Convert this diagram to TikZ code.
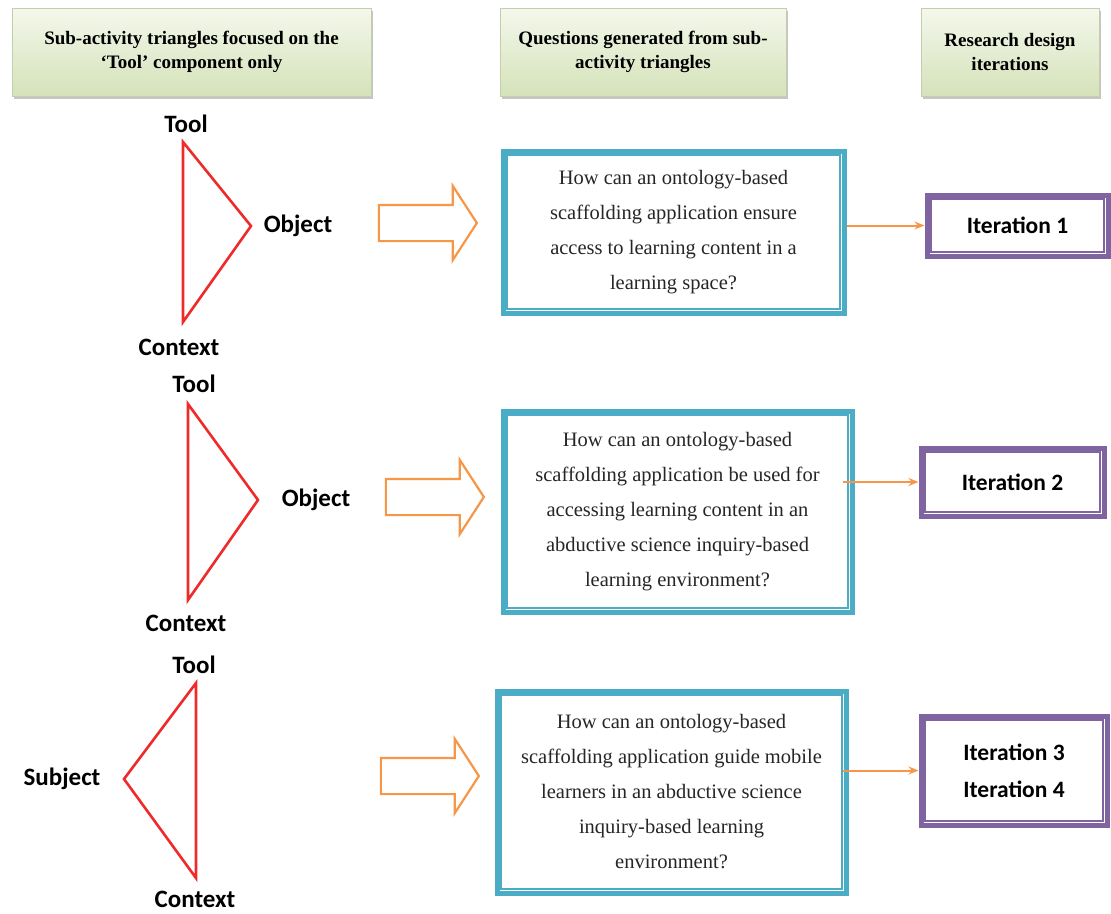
\documentclass[tikz,border=0pt]{standalone}
\usepackage{fontspec}
\setmainfont{Liberation Serif}
\newfontfamily\calfont{Carlito}
\usepackage{tikz}
\usetikzlibrary{shapes, shapes.arrows, arrows.meta, positioning, calc, shadows}
\definecolor{hdrtop}{HTML}{F4F8EC}
\definecolor{hdrbot}{HTML}{D5E2B9}
\definecolor{qteal}{HTML}{4BACC6}
\definecolor{itpurple}{HTML}{8064A2}
\definecolor{arrorange}{HTML}{F79646}
\definecolor{trired}{HTML}{EE2A2A}
\tikzstyle{hdr} = [rectangle, top color=hdrtop, bottom color=hdrbot, draw=hdrbot!80!gray, line width=0.6pt, drop shadow={shadow xshift=2pt, shadow yshift=-3pt, fill=black!45}, align=center, font=\fontsize{19}{24}\selectfont\bfseries]
\tikzstyle{question} = [rectangle, draw=qteal, line width=5pt, fill=white, align=center, font=\fontsize{20.5}{35}\selectfont\color{black!85}]
\tikzstyle{iter} = [rectangle, draw=itpurple, line width=5pt, fill=white, align=center, font=\calfont\fontsize{23.5}{37}\selectfont\bfseries]
\tikzstyle{lbl} = [font=\calfont\fontsize{25}{28}\selectfont\bfseries, inner sep=0pt]
\tikzstyle{tri} = [draw=trired, line width=2.6pt, line join=miter]
\tikzstyle{fat} = [single arrow, draw=arrorange, line width=2.2pt, fill=white, minimum height=98pt, inner xsep=0pt, inner ysep=17pt, single arrow head extend=19pt, single arrow tip angle=114]
\tikzstyle{link} = [draw=arrorange, line width=2pt, -{Stealth[length=10pt, width=8pt]}]

\begin{document}
\begin{tikzpicture}[x=1pt, y=-1pt]
	\useasboundingbox (0,0) rectangle (1111,913);
	
	% column headers
	\node [hdr, minimum width=359pt, minimum height=88pt] (h1) at (191.5,52) {Sub-activity triangles focused on the\\`Tool' component only};
	\node [hdr, minimum width=286pt, minimum height=88pt] (h2) at (643,52) {Questions generated from sub-\\activity triangles};
	\node [hdr, minimum width=178pt, minimum height=88pt] (h3) at (1010,52) {Research design\\iterations};
	
	% triangles
	\coordinate (t1a) at (183,142);
	\coordinate (t1b) at (251,226);
	\coordinate (t1c) at (183,322);
	\draw [tri] (t1a) -- (t1b) -- (t1c) -- cycle;
	\node [lbl] (tool1) at (186,124) {Tool};
	\node [lbl] (obj1) at (298,226) {Object};
	\node [lbl] (ctx1) at (179,347) {Context};
	
	\coordinate (t2a) at (188,404);
	\coordinate (t2b) at (258,500);
	\coordinate (t2c) at (188,600);
	\draw [tri] (t2a) -- (t2b) -- (t2c) -- cycle;
	\node [lbl] (tool2) at (194,384) {Tool};
	\node [lbl] (obj2) at (316,500) {Object};
	\node [lbl] (ctx2) at (186,623) {Context};
	
	\coordinate (t3a) at (196,683);
	\coordinate (t3b) at (124,779);
	\coordinate (t3c) at (196,878);
	\draw [tri] (t3a) -- (t3b) -- (t3c) -- cycle;
	\node [lbl] (tool3) at (194,665) {Tool};
	\node [lbl] (subj3) at (62,779) {Subject};
	\node [lbl] (ctx3) at (195,899) {Context};
	
	% block arrows
	\node [fat] (fat1) at (422,223) {};
	\node [fat] (fat2) at (429,497) {};
	\node [fat] (fat3) at (424,776) {};
	
	% questions
	\node [question, minimum width=341pt, minimum height=162pt] (q1) at (673.5,232) {How can an ontology-based\\scaffolding application ensure\\access to learning content in a\\learning space?};
	\node [question, minimum width=349pt, minimum height=201pt] (q2) at (677.5,511.5) {How can an ontology-based\\scaffolding application be used for\\accessing learning content in an\\abductive science inquiry-based\\learning environment?};
	\node [question, minimum width=349pt, minimum height=202pt] (q3) at (671.5,792) {How can an ontology-based\\scaffolding application guide mobile\\learners in an abductive science\\inquiry-based learning\\environment?};
	
	% iterations
	\node [iter, minimum width=181pt, minimum height=61pt] (it1) at (1017.5,225.5) {Iteration 1};
	\node [iter, minimum width=183pt, minimum height=68pt] (it2) at (1012.5,482) {Iteration 2};
	\node [iter, minimum width=186pt, minimum height=109pt] (it3) at (1014,770.5) {Iteration 3\\Iteration 4};
	
	% inner thin borders
	\foreach \n in {q1,q2,q3}
		\draw [qteal, line width=1.3pt] ([xshift=6.5pt,yshift=-6.5pt]\n.north west) rectangle ([xshift=-6.5pt,yshift=6.5pt]\n.south east);
	\foreach \n in {it1,it2,it3}
		\draw [itpurple, line width=1.3pt] ([xshift=6.5pt,yshift=-6.5pt]\n.north west) rectangle ([xshift=-6.5pt,yshift=6.5pt]\n.south east);
	
	\draw [link] (q1.east |- it1.west) -- (it1.west);
	\draw [link] ([xshift=-12pt]q2.east |- it2.west) -- (it2.west);
	\draw [link] ([xshift=-6pt]q3.east |- it3.west) -- (it3.west);
	
\end{tikzpicture}
\end{document}
